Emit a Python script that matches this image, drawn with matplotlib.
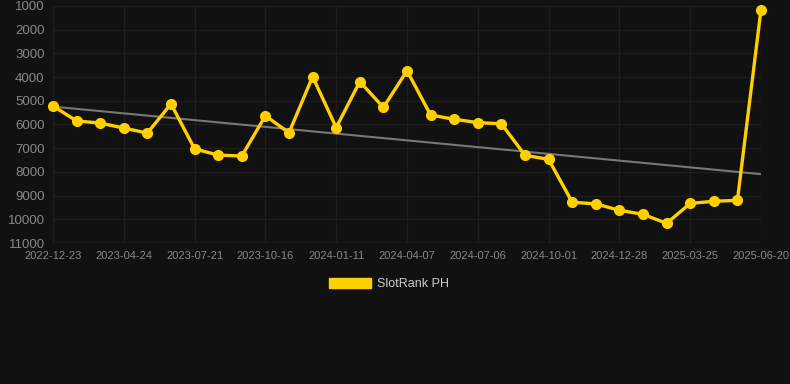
import matplotlib.pyplot as plt
import matplotlib.patches as mpatches
import numpy as np

# Tick labels (every third point is labelled)
tick_labels = ['2022-12-23', '2023-04-24', '2023-07-21', '2023-10-16', '2024-01-11',
               '2024-04-07', '2024-07-06', '2024-10-01', '2024-12-28', '2025-03-25',
               '2025-06-20']

# Rank values
ranks = [5220, 5850, 5940, 6150, 6360, 5130, 7030, 7290, 7330, 5630,
         6350, 3980, 6130, 4190, 5280, 3730, 5600, 5780, 5920, 5970,
         7300, 7470, 9280, 9350, 9620, 9790, 10170, 9330, 9240, 9200,
         1150]

bg = '#111111'
gold = '#FFD000'
plt.rcParams['font.family'] = ['Liberation Sans', 'DejaVu Sans']

fig = plt.figure(figsize=(7.9, 3.84), dpi=100, facecolor=bg)
ax = fig.add_axes([53 / 790, 1 - 243 / 384, (761 - 53) / 790, (243 - 6) / 384])
ax.set_facecolor(bg)

x = np.arange(len(ranks))
y = np.array(ranks)

# trend line (least squares)
k, b = np.polyfit(x, y, 1)
ax.plot(x, k * x + b, color='#777777', linewidth=1.5, zorder=2)

ax.plot(x, y, color=gold, linewidth=2.4, marker='o', markersize=7,
        zorder=3, clip_on=False)

ax.set_xlim(0, len(ranks) - 1)
ax.set_ylim(11000, 1000)
ax.set_yticks(np.arange(1000, 11001, 1000))
ax.set_xticks(np.arange(0, len(ranks), 3))
ax.set_xticklabels(tick_labels)

ax.grid(True, color='#1e1e1e', linewidth=1)
for s in ax.spines.values():
    s.set_visible(False)
ax.tick_params(axis='both', length=0, colors='#888888', labelsize=8)
ax.tick_params(axis='y', labelsize=9.5, pad=6)
ax.tick_params(axis='x', pad=6)
ax.axhline(11000, color='#2a2a2a', linewidth=1)

handle = mpatches.Patch(color=gold, label='SlotRank PH')
leg = fig.legend(handles=[handle], loc='center', bbox_to_anchor=(389 / 790, 1 - 284 / 384),
                 frameon=False, fontsize=9, handlelength=3.3, handleheight=0.9,
                 handletextpad=0.5)
for t in leg.get_texts():
    t.set_color('#cccccc')

fig.savefig('out.png', dpi=100, facecolor=bg)
